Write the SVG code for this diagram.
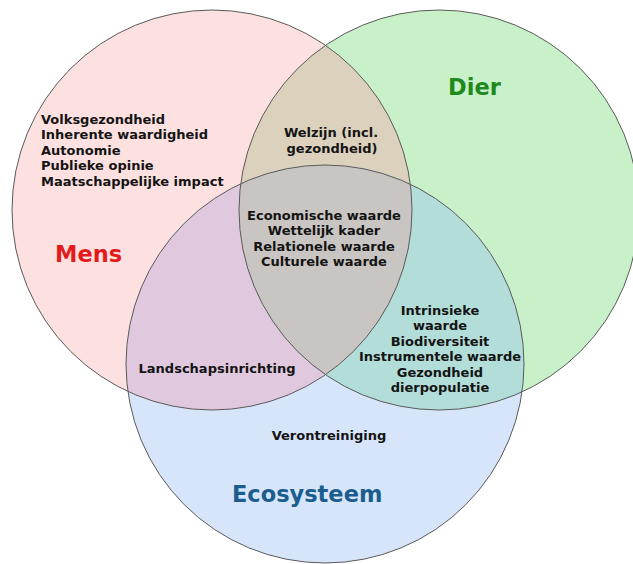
<svg xmlns="http://www.w3.org/2000/svg" width="633" height="564" viewBox="0 0 633 564">
<style>
.t{font-family:"DejaVu Sans","Verdana",sans-serif;font-weight:bold;font-size:13px;fill:#141414}
.c{text-anchor:middle}
.big{font-family:"DejaVu Sans","Verdana",sans-serif;font-weight:bold;font-size:22.5px}
.edge{fill:none;stroke:#5a5a5a;stroke-width:1}
</style>
<defs>
<clipPath id="cm"><circle cx="212" cy="210" r="200"/></clipPath>
<clipPath id="cd"><circle cx="439" cy="210" r="200"/></clipPath>
</defs>
<rect width="633" height="564" fill="#ffffff"/>
<g id="mens">
<circle cx="212" cy="210" r="200" fill="#fde0e0"/>
</g>
<g id="dier">
<circle cx="439" cy="210" r="200" fill="#c9f1c9"/>
</g>
<g id="ecosysteem">
<circle cx="325" cy="364" r="199" fill="#d7e5fb"/>
</g>
<g id="overlaps">
<circle cx="439" cy="210" r="200" fill="#dcd1bd" clip-path="url(#cm)"/>
<circle cx="325" cy="364" r="199" fill="#e0c9df" clip-path="url(#cm)"/>
<circle cx="325" cy="364" r="199" fill="#b2ddd8" clip-path="url(#cd)"/>
<g clip-path="url(#cm)"><circle cx="325" cy="364" r="199" fill="#c9c5c3" clip-path="url(#cd)"/></g>
</g>
<g id="outlines">
<circle class="edge" cx="212" cy="210" r="200"/>
<circle class="edge" cx="439" cy="210" r="200"/>
<circle class="edge" cx="325" cy="364" r="199"/>
</g>
<g id="mens-labels">
<text class="t" x="41" y="123.5">Volksgezondheid</text>
<text class="t" x="41" y="139">Inherente waardigheid</text>
<text class="t" x="41" y="154.5">Autonomie</text>
<text class="t" x="41" y="170">Publieke opinie</text>
<text class="t" x="41" y="185.5">Maatschappelijke impact</text>
<text class="big" x="55" y="262" fill="#e31b1b">Mens</text>
</g>
<g id="dier-labels">
<text class="big" x="448" y="95" fill="#1e8a1e">Dier</text>
</g>
<g id="eco-labels">
<text class="t c" x="329" y="440">Verontreiniging</text>
<text class="big" x="232" y="502" fill="#1b5e8e">Ecosysteem</text>
</g>
<g id="mens-dier">
<text class="t c" x="331" y="137">Welzijn (incl.</text>
<text class="t c" x="332" y="152.5">gezondheid)</text>
</g>
<g id="centre">
<text class="t c" x="324" y="220">Economische waarde</text>
<text class="t c" x="324" y="235.3">Wettelijk kader</text>
<text class="t c" x="324" y="250.6">Relationele waarde</text>
<text class="t c" x="324" y="265.9">Culturele waarde</text>
</g>
<g id="mens-eco">
<text class="t c" x="217" y="372.7">Landschapsinrichting</text>
</g>
<g id="dier-eco">
<text class="t c" x="440" y="314.7">Intrinsieke</text>
<text class="t c" x="440" y="330.2">waarde</text>
<text class="t c" x="440" y="345.7">Biodiversiteit</text>
<text class="t c" x="440" y="361.2">Instrumentele waarde</text>
<text class="t c" x="440" y="376.7">Gezondheid</text>
<text class="t c" x="440" y="392.2">dierpopulatie</text>
</g>
</svg>
